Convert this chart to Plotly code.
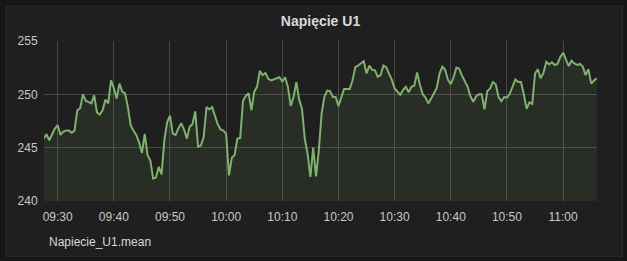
import pandas as pd
import plotly.graph_objects as go

title_text = "Napięcie U1"
series_name = "Napiecie_U1.mean"
start_time = "2021-01-01 09:27:30"
interval = "30s"
y_ticks = [240, 245, 250, 255]

values = [
    245.85, 246.26, 245.7, 246.26, 246.8, 247.1, 246.2, 246.5, 246.6, 246.6,
    246.4, 246.6, 248.5, 248.7, 250.0, 249.4, 249.3, 249.15, 249.9, 248.3,
    248.1, 248.5, 249.5, 249.15, 251.3, 250.6, 249.6, 251.0, 250.25, 250.1,
    248.8, 247.1, 246.6, 246.2, 245.5, 244.5, 246.3, 244.3, 243.8, 242.1,
    242.2, 243.2, 242.5, 245.7, 247.4, 248.0, 246.3, 246.2, 246.8, 247.3,
    246.7, 245.85, 246.95, 247.2, 248.4, 245.1, 245.2, 246.0, 248.8, 248.6,
    248.8, 248.05, 247.2, 246.7, 246.6, 246.3, 242.4, 244.05, 244.3, 245.85,
    245.9, 249.4, 249.85, 250.1, 248.5, 250.25, 250.7, 252.2, 251.8, 252.0,
    251.45, 251.3, 251.4, 251.55, 251.6, 251.2, 251.6, 250.7, 248.9, 249.75,
    251.15, 249.5, 248.65, 245.85, 244.45, 242.25, 245.0, 242.3, 244.75, 248.2,
    249.8, 250.35, 250.3, 249.75, 249.75, 248.9, 249.6, 250.5, 250.5, 250.5,
    251.3, 252.55, 252.7, 252.9, 253.1, 251.95, 252.7, 252.3, 252.25, 251.65,
    251.8, 252.7, 252.55, 251.95, 251.35, 250.55, 250.2, 249.95, 250.4, 250.7,
    250.2, 250.7, 250.8, 252.05, 250.9, 250.0, 249.7, 249.15, 249.6, 250.1,
    250.6, 251.95, 252.6, 252.3, 251.35, 250.95, 251.6, 252.5, 252.4, 251.75,
    251.2, 250.7, 249.8, 249.3, 249.8, 250.0, 250.0, 248.6, 250.3, 250.55,
    251.15, 250.95, 249.75, 249.35, 249.75, 249.7, 250.05, 250.75, 251.4, 251.15,
    251.15, 250.0, 248.65, 249.25, 249.1, 251.95, 252.35, 251.5, 252.0, 253.05,
    252.8, 253.0, 252.75, 252.85, 253.5, 253.9, 253.35, 252.65, 253.15, 252.9,
    252.75, 252.85, 252.6, 251.8, 252.35, 251.0, 251.3, 251.5,
]

times = pd.date_range(start=start_time, periods=len(values), freq=interval)

LINE = "#7eb26d"
PANEL = "#1f1f1f"
OUTER = "#161616"
GRID = "#484848"
TXT = "#c8c9ca"
FONT = "Liberation Sans, Arial, sans-serif"

fig = go.Figure()
fig.add_trace(go.Scatter(
    x=times, y=values, mode="lines",
    line=dict(color=LINE, width=2),
    fill="tozeroy", fillcolor="rgba(126,178,109,0.10)",
    name=series_name, showlegend=False, hoverinfo="skip",
))

W, H = 627, 261
L, R, T, B = 44, 30, 41, 60

# panel rectangle (paper coords extend beyond the plot area)
pw = W - L - R
ph = H - T - B
def px2paper_x(px):
    return (px - L) / pw
def py2paper_y(py):
    return (H - B - py) / ph

fig.add_shape(type="rect", xref="paper", yref="paper",
              x0=px2paper_x(6), x1=px2paper_x(622.5),
              y0=py2paper_y(256.5), y1=py2paper_y(6),
              fillcolor=PANEL, line=dict(color="#2a2a2a", width=1), layer="below")

fig.add_annotation(text=series_name, xref="paper", yref="paper",
                   x=px2paper_x(47), y=py2paper_y(242), xanchor="left", yanchor="middle",
                   showarrow=False, font=dict(family=FONT, size=12, color="#d8d9da"))

fig.update_layout(
    width=W, height=H,
    margin=dict(l=L, r=R, t=T, b=B, pad=0),
    paper_bgcolor=OUTER, plot_bgcolor=PANEL,
    title=dict(text="<b>" + title_text + "</b>", x=0.5, xref="paper", xanchor="center",
               y=1 - 21 / H, yref="container", yanchor="middle",
               font=dict(family=FONT, size=14, color="#d8d9da")),
    font=dict(family=FONT, size=12, color=TXT),
    xaxis=dict(
        type="date",
        range=["2021-01-01 09:27:34", "2021-01-01 11:06:02"],
        dtick=600000, tickformat="%H:%M",
        tick0="2021-01-01 09:30:00",
        showgrid=True, gridcolor=GRID, gridwidth=1,
        zeroline=False, showline=False,
        ticks="outside", ticklen=5, tickcolor="rgba(0,0,0,0)",
        tickfont=dict(family=FONT, size=12, color=TXT),
        fixedrange=True,
    ),
    yaxis=dict(
        range=[240, 255], tickvals=y_ticks,
        showgrid=True, gridcolor=GRID, gridwidth=1,
        zeroline=False, showline=False,
        ticks="outside", ticklen=3, tickcolor="rgba(0,0,0,0)",
        tickfont=dict(family=FONT, size=12, color=TXT),
        fixedrange=True,
    ),
)

fig.write_html("out.html", config={"displayModeBar": False})
